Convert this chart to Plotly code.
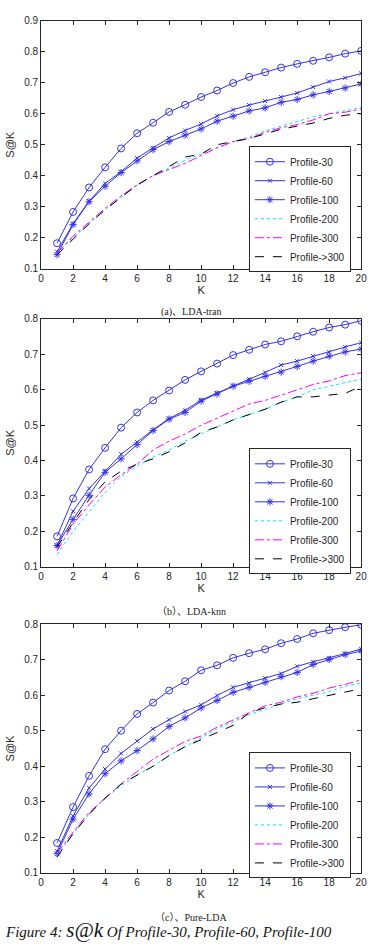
import plotly.graph_objects as go

K = list(range(1, 21))
series_names = ["Profile-30", "Profile-60", "Profile-100", "Profile-200", "Profile-300", "Profile->300"]

# (a) LDA-tran
a_p30 = [0.182, 0.283, 0.362, 0.427, 0.488, 0.537, 0.571, 0.606, 0.629, 0.654, 0.675, 0.699, 0.719, 0.734, 0.749, 0.761, 0.771, 0.782, 0.794, 0.803]
a_p60 = [0.155, 0.245, 0.318, 0.375, 0.413, 0.457, 0.490, 0.522, 0.546, 0.567, 0.593, 0.613, 0.628, 0.641, 0.654, 0.667, 0.686, 0.704, 0.716, 0.730]
a_p100 = [0.145, 0.242, 0.316, 0.366, 0.410, 0.448, 0.484, 0.510, 0.531, 0.551, 0.576, 0.592, 0.609, 0.619, 0.637, 0.646, 0.661, 0.672, 0.683, 0.696]
a_p200 = [0.150, 0.200, 0.245, 0.290, 0.330, 0.370, 0.400, 0.425, 0.450, 0.470, 0.490, 0.510, 0.525, 0.545, 0.560, 0.575, 0.590, 0.600, 0.610, 0.620]
a_p300 = [0.150, 0.205, 0.250, 0.295, 0.335, 0.370, 0.400, 0.420, 0.440, 0.465, 0.490, 0.510, 0.520, 0.540, 0.555, 0.565, 0.580, 0.600, 0.605, 0.615]
a_p300p = [0.145, 0.195, 0.245, 0.290, 0.330, 0.370, 0.400, 0.430, 0.460, 0.470, 0.500, 0.510, 0.520, 0.535, 0.550, 0.560, 0.570, 0.585, 0.595, 0.600]

# (b) LDA-knn
b_p30 = [0.186, 0.293, 0.375, 0.436, 0.493, 0.536, 0.570, 0.598, 0.628, 0.652, 0.674, 0.698, 0.713, 0.728, 0.737, 0.751, 0.764, 0.776, 0.784, 0.795]
b_p60 = [0.160, 0.257, 0.321, 0.371, 0.418, 0.452, 0.487, 0.519, 0.542, 0.571, 0.591, 0.612, 0.630, 0.649, 0.670, 0.681, 0.695, 0.707, 0.721, 0.733]
b_p100 = [0.160, 0.234, 0.302, 0.367, 0.405, 0.445, 0.485, 0.517, 0.536, 0.568, 0.588, 0.610, 0.624, 0.638, 0.650, 0.666, 0.681, 0.695, 0.707, 0.715]
b_p200 = [0.135, 0.200, 0.255, 0.310, 0.355, 0.385, 0.410, 0.430, 0.455, 0.475, 0.495, 0.515, 0.530, 0.545, 0.565, 0.580, 0.600, 0.610, 0.620, 0.630]
b_p300 = [0.145, 0.220, 0.275, 0.325, 0.360, 0.390, 0.430, 0.455, 0.475, 0.500, 0.520, 0.540, 0.560, 0.570, 0.585, 0.600, 0.615, 0.625, 0.640, 0.648]
b_p300p = [0.155, 0.225, 0.290, 0.340, 0.370, 0.390, 0.405, 0.425, 0.450, 0.480, 0.495, 0.515, 0.530, 0.545, 0.565, 0.580, 0.580, 0.585, 0.590, 0.610]

# (c) Pure-LDA
c_p30 = [0.184, 0.285, 0.373, 0.448, 0.500, 0.547, 0.579, 0.613, 0.639, 0.670, 0.684, 0.705, 0.718, 0.729, 0.746, 0.758, 0.774, 0.783, 0.791, 0.798]
c_p60 = [0.161, 0.260, 0.339, 0.392, 0.436, 0.471, 0.505, 0.531, 0.554, 0.573, 0.599, 0.622, 0.634, 0.648, 0.661, 0.681, 0.694, 0.705, 0.717, 0.730]
c_p100 = [0.154, 0.251, 0.322, 0.379, 0.415, 0.444, 0.477, 0.512, 0.536, 0.564, 0.585, 0.608, 0.622, 0.636, 0.652, 0.664, 0.686, 0.700, 0.714, 0.724]
c_p200 = [0.150, 0.210, 0.265, 0.310, 0.345, 0.375, 0.400, 0.430, 0.455, 0.480, 0.505, 0.525, 0.545, 0.560, 0.575, 0.590, 0.600, 0.610, 0.625, 0.635]
c_p300 = [0.155, 0.215, 0.270, 0.310, 0.350, 0.385, 0.420, 0.445, 0.470, 0.485, 0.510, 0.530, 0.550, 0.570, 0.580, 0.595, 0.605, 0.620, 0.630, 0.643]
c_p300p = [0.145, 0.210, 0.265, 0.310, 0.350, 0.375, 0.400, 0.430, 0.455, 0.475, 0.495, 0.515, 0.550, 0.565, 0.575, 0.580, 0.590, 0.600, 0.610, 0.618]

x_ticks = list(range(0, 21, 2))
y_ticks_a = [0.1, 0.2, 0.3, 0.4, 0.5, 0.6, 0.7, 0.8, 0.9]
y_ticks_bc = [0.1, 0.2, 0.3, 0.4, 0.5, 0.6, 0.7, 0.8]
captions = ["(a)、LDA-tran", "（b）、LDA-knn", "（c）、Pure-LDA"]

W, H = 374, 946
BLUE = "#3333e6"
styles = [
    dict(line=dict(color=BLUE, width=1), mode="lines+markers",
         marker=dict(symbol="circle-open", size=7, color=BLUE, line=dict(width=1))),
    dict(line=dict(color=BLUE, width=1), mode="lines+markers",
         marker=dict(symbol="x-thin-open", size=4, color=BLUE, line=dict(width=1))),
    dict(line=dict(color=BLUE, width=1), mode="lines+markers",
         marker=dict(symbol="asterisk-open", size=6, color=BLUE, line=dict(width=1))),
    dict(line=dict(color="#00e5ff", width=1, dash="dot"), mode="lines"),
    dict(line=dict(color="#ff00ff", width=1, dash="dashdot"), mode="lines"),
    dict(line=dict(color="#000000", width=1, dash="dash"), mode="lines"),
]

panels = [
    [a_p30, a_p60, a_p100, a_p200, a_p300, a_p300p],
    [b_p30, b_p60, b_p100, b_p200, b_p300, b_p300p],
    [c_p30, c_p60, c_p100, c_p200, c_p300, c_p300p],
]

# pixel layout of each panel (top, bottom)
px_boxes = [(15, 266), (317, 568), (626, 878)]
legend_tops = [142, 448, 756]

fig = go.Figure()
for pi, data in enumerate(panels):
    sfx = "" if pi == 0 else str(pi + 1)
    leg = "legend" if pi == 0 else "legend" + str(pi + 1)
    for si, ys in enumerate(data):
        fig.add_trace(go.Scatter(x=K, y=ys, name=series_names[si],
                                 xaxis="x" + sfx, yaxis="y" + sfx,
                                 legend=leg, **styles[si]))

axis_font = dict(family="Liberation Sans, Arial, sans-serif", size=10, color="#262626")
layout = dict(width=W, height=H, margin=dict(l=0, r=0, t=0, b=0),
              paper_bgcolor="white", plot_bgcolor="white", showlegend=True)

for pi in range(3):
    sfx = "" if pi == 0 else str(pi + 1)
    top, bot = px_boxes[pi]
    yd = [1 - bot / H, 1 - top / H]
    xaxis = dict(domain=[39 / W, 367 / W], range=[0, 20], tickvals=x_ticks,
                 ticks="inside", ticklen=4, tickcolor="#262626", showline=True,
                 linecolor="#262626", linewidth=1, mirror="ticks", showgrid=False,
                 zeroline=False, tickfont=axis_font,
                 title=dict(text="K", font=dict(family="Liberation Sans, Arial", size=11, color="#262626"), standoff=2),
                 anchor="y" + sfx)
    yt = y_ticks_a if pi == 0 else y_ticks_bc
    yaxis = dict(domain=yd, range=[yt[0], yt[-1]], tickvals=yt,
                 ticktext=[f"{v:.1f}" for v in yt],
                 ticks="inside", ticklen=4, tickcolor="#262626", showline=True,
                 linecolor="#262626", linewidth=1, mirror="ticks", showgrid=False,
                 zeroline=False, tickfont=axis_font,
                 title=dict(text="S@K", font=dict(family="Liberation Sans, Arial", size=11, color="#262626"), standoff=7),
                 anchor="x" + sfx)
    layout["xaxis" + sfx] = xaxis
    layout["yaxis" + sfx] = yaxis
    leg = "legend" if pi == 0 else "legend" + str(pi + 1)
    layout[leg] = dict(x=252 / W, xanchor="left", y=1 - legend_tops[pi] / H, yanchor="top",
                       bgcolor="white", bordercolor="#262626", borderwidth=1,
                       font=dict(family="Liberation Sans, Arial", size=10, color="#262626"),
                       tracegroupgap=0, itemwidth=30)

fig.update_layout(**layout)

cap_y = [310, 613, 923]
serif = "Liberation Serif, Times New Roman, Noto Sans CJK SC, serif"
for pi in range(3):
    fig.add_annotation(text=captions[pi], x=193 / W, y=1 - cap_y[pi] / H, xref="paper", yref="paper",
                       showarrow=False, xanchor="center", yanchor="middle",
                       font=dict(family=serif, size=10, color="#222222"))

fig.add_annotation(
    text="<i>Figure 4: <span style='font-size:21px'>s@k</span> Of Profile-30, Profile-60, Profile-100</i>",
    x=0, y=1 - 936 / H, xref="paper", yref="paper", showarrow=False,
    xanchor="left", yanchor="middle", font=dict(family=serif, size=15, color="#111111"))

fig.write_html("out.html")
